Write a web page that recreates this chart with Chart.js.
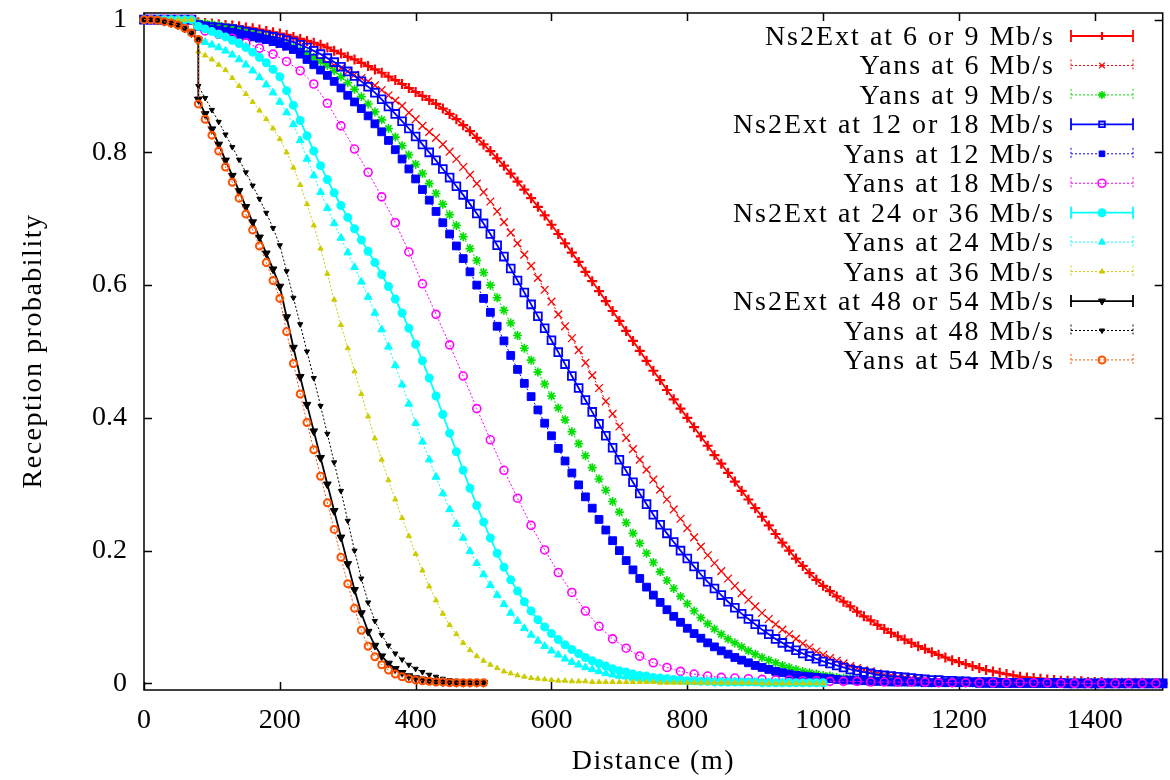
<!DOCTYPE html>
<html>
<head>
<meta charset="utf-8">
<title>Reception probability</title>
<script src="https://cdn.jsdelivr.net/npm/chart.js@4.4.1/dist/chart.umd.min.js"></script>
<style>
  html, body { margin: 0; padding: 0; background: #fff; }
  #caixa { width: 1170px; height: 780px; }
</style>
</head>
<body>
<div id="caixa"><canvas id="grafico" width="1170" height="780"></canvas></div>
<script>
// Distâncias (m)
const distancias = [
  0, 10, 20, 30, 40, 50, 60, 70, 80, 90,
  100, 110, 120, 130, 140, 150, 160, 170, 180, 190,
  200, 210, 220, 230, 240, 250, 260, 270, 280, 290,
  300, 310, 320, 330, 340, 350, 360, 370, 380, 390,
  400, 410, 420, 430, 440, 450, 460, 470, 480, 490,
  500, 510, 520, 530, 540, 550, 560, 570, 580, 590,
  600, 610, 620, 630, 640, 650, 660, 670, 680, 690,
  700, 710, 720, 730, 740, 750, 760, 770, 780, 790,
  800, 810, 820, 830, 840, 850, 860, 870, 880, 890,
  900, 910, 920, 930, 940, 950, 960, 970, 980, 990,
  1000, 1010, 1020, 1030, 1040, 1050, 1060, 1070, 1080, 1090,
  1100, 1110, 1120, 1130, 1140, 1150, 1160, 1170, 1180, 1190,
  1200, 1210, 1220, 1230, 1240, 1250, 1260, 1270, 1280, 1290,
  1300, 1310, 1320, 1330, 1340, 1350, 1360, 1370, 1380, 1390,
  1400, 1410, 1420, 1430, 1440, 1450, 1460, 1470, 1480, 1490,
  1500
];
// séries de 48/54 Mb/s: dois valores em 80 m (salto)
const distanciasCurtas = [
  0, 10, 20, 30, 40, 50, 60, 70, 80,
  80, 90, 100, 110, 120, 130, 140, 150, 160, 170, 180, 190,
  200, 210, 220, 230, 240, 250, 260, 270, 280, 290,
  300, 310, 320, 330, 340, 350, 360, 370, 380, 390,
  400, 410, 420, 430, 440, 450, 460, 470, 480, 490,
  500
];
// Yans 18 Mb/s amostrado a cada 20 m
const distanciasYans18 = [
  10, 30, 50, 70, 90, 110, 130, 150, 170, 190,
  210, 230, 250, 270, 290, 310, 330, 350, 370, 390,
  410, 430, 450, 470, 490, 510, 530, 550, 570, 590,
  610, 630, 650, 670, 690, 710, 730, 750, 770, 790,
  810, 830, 850, 870, 890, 910, 930, 950, 970, 990,
  1010, 1030, 1050, 1070, 1090, 1110, 1130, 1150, 1170, 1190,
  1210, 1230, 1250, 1270, 1290, 1310, 1330, 1350, 1370, 1390,
  1410, 1430, 1450, 1470, 1490
];

const ticksX = [0, 200, 400, 600, 800, 1000, 1200, 1400];
const ticksY = [0, 0.2, 0.4, 0.6, 0.8, 1];

const ns2ext69 = [
  1, 1, 1, 1, 1, 1, 1, 1, 0.996, 0.995,
  0.994, 0.993, 0.992, 0.991, 0.990, 0.988, 0.987, 0.985, 0.983, 0.981,
  0.979, 0.977, 0.974, 0.971, 0.968, 0.965, 0.962, 0.958, 0.953, 0.949,
  0.944, 0.94, 0.935, 0.93, 0.925, 0.92, 0.914, 0.909, 0.903, 0.897,
  0.891, 0.885, 0.879, 0.873, 0.866, 0.858, 0.85, 0.841, 0.832, 0.822,
  0.812, 0.802, 0.791, 0.78, 0.768, 0.756, 0.744, 0.731, 0.718, 0.705,
  0.691, 0.677, 0.663, 0.649, 0.635, 0.62, 0.606, 0.591, 0.576, 0.561,
  0.546, 0.531, 0.516, 0.501, 0.486, 0.471, 0.457, 0.442, 0.428, 0.414,
  0.4, 0.386, 0.372, 0.358, 0.344, 0.331, 0.317, 0.304, 0.29, 0.277,
  0.264, 0.251, 0.238, 0.225, 0.212, 0.2, 0.188, 0.177, 0.166, 0.156,
  0.147, 0.139, 0.131, 0.123, 0.116, 0.108, 0.101, 0.095, 0.088, 0.082,
  0.076, 0.071, 0.066, 0.061, 0.056, 0.052, 0.047, 0.043, 0.039, 0.035,
  0.032, 0.029, 0.026, 0.023, 0.02, 0.018, 0.016, 0.014, 0.012, 0.01,
  0.009, 0.008, 0.007, 0.006, 0.005, 0.004, 0.004, 0.003, 0.003, 0.002,
  0.002, 0.002, 0.001, 0.001, 0.001, 0.001, 0.001, 0.001, 0, 0,
  0
];
const yans6 = [
  1, 1, 1, 1, 1, 1, 1, 1, 0.992, 0.99,
  0.988, 0.986, 0.984, 0.982, 0.98, 0.977, 0.975, 0.972, 0.969, 0.966,
  0.963, 0.959, 0.955, 0.951, 0.947, 0.943, 0.939, 0.935, 0.931, 0.927,
  0.922, 0.917, 0.912, 0.907, 0.901, 0.894, 0.886, 0.878, 0.87, 0.86,
  0.85, 0.84, 0.831, 0.822, 0.812, 0.801, 0.79, 0.778, 0.766, 0.753,
  0.74, 0.726, 0.711, 0.695, 0.679, 0.663, 0.646, 0.629, 0.611, 0.593,
  0.575, 0.556, 0.538, 0.52, 0.502, 0.483, 0.464, 0.445, 0.425, 0.406,
  0.387, 0.37, 0.353, 0.337, 0.322, 0.307, 0.292, 0.277, 0.262, 0.248,
  0.234, 0.22, 0.206, 0.193, 0.181, 0.169, 0.158, 0.147, 0.136, 0.126,
  0.116, 0.106, 0.097, 0.089, 0.081, 0.074, 0.067, 0.06, 0.054, 0.048,
  0.043, 0.038, 0.034, 0.03, 0.026, 0.023, 0.02, 0.018, 0.015, 0.013,
  0.012, 0.01, 0.009, 0.008, 0.007, 0.006, 0.005, 0.004, 0.004, 0.003,
  0.003, 0.002, 0.002, 0.002, 0.002, 0.001, 0.001, 0.001, 0.001, 0.001,
  0.001, 0.001, 0, 0, 0, 0, 0, 0, 0, 0,
  0, 0, 0, 0, 0, 0, 0, 0, 0, 0,
  0
];
const yans9 = [
  1, 1, 1, 1, 1, 1, 1, 1, 0.995, 0.994,
  0.993, 0.991, 0.989, 0.987, 0.985, 0.982, 0.979, 0.976, 0.973, 0.97,
  0.967, 0.963, 0.959, 0.954, 0.949, 0.943, 0.937, 0.931, 0.923, 0.914,
  0.905, 0.895, 0.884, 0.873, 0.861, 0.849, 0.836, 0.823, 0.81, 0.796,
  0.782, 0.768, 0.753, 0.738, 0.722, 0.706, 0.69, 0.673, 0.655, 0.637,
  0.619, 0.6, 0.581, 0.562, 0.543, 0.524, 0.505, 0.487, 0.469, 0.451,
  0.433, 0.415, 0.397, 0.379, 0.361, 0.343, 0.325, 0.308, 0.291, 0.274,
  0.258, 0.242, 0.226, 0.211, 0.196, 0.182, 0.168, 0.155, 0.143, 0.131,
  0.12, 0.109, 0.099, 0.09, 0.082, 0.074, 0.067, 0.061, 0.055, 0.049,
  0.044, 0.039, 0.035, 0.031, 0.027, 0.024, 0.021, 0.018, 0.016, 0.014,
  0.012, 0.011, 0.009, 0.008, 0.007, 0.006, 0.005, 0.005, 0.004, 0.004,
  0.003, 0.003, 0.002, 0.002, 0.002, 0.002, 0.001, 0.001, 0.001, 0.001,
  0.001, 0.001, 0.001, 0.001, 0.001, 0.001, 0, 0, 0, 0,
  0, 0, 0, 0, 0, 0, 0, 0, 0, 0,
  0, 0, 0, 0, 0, 0, 0, 0, 0, 0,
  0
];
const ns2ext1218 = [
  1, 1, 1, 1, 1, 1, 1, 1, 0.992, 0.99,
  0.989, 0.988, 0.987, 0.986, 0.984, 0.982, 0.98, 0.978, 0.976, 0.974,
  0.972, 0.969, 0.966, 0.962, 0.958, 0.953, 0.948, 0.942, 0.936, 0.929,
  0.922, 0.915, 0.907, 0.899, 0.89, 0.88, 0.869, 0.858, 0.847, 0.836,
  0.824, 0.812, 0.8, 0.788, 0.775, 0.762, 0.749, 0.736, 0.722, 0.708,
  0.693, 0.677, 0.66, 0.643, 0.625, 0.607, 0.589, 0.571, 0.553, 0.535,
  0.517, 0.499, 0.481, 0.463, 0.445, 0.427, 0.409, 0.391, 0.373, 0.355,
  0.337, 0.32, 0.303, 0.286, 0.27, 0.254, 0.239, 0.226, 0.213, 0.2,
  0.188, 0.176, 0.164, 0.153, 0.143, 0.133, 0.123, 0.114, 0.105, 0.097,
  0.089, 0.081, 0.074, 0.067, 0.061, 0.055, 0.05, 0.045, 0.041, 0.037,
  0.033, 0.03, 0.027, 0.024, 0.021, 0.019, 0.017, 0.015, 0.013, 0.012,
  0.011, 0.01, 0.009, 0.008, 0.007, 0.006, 0.005, 0.005, 0.004, 0.004,
  0.003, 0.003, 0.002, 0.002, 0.002, 0.002, 0.001, 0.001, 0.001, 0.001,
  0.001, 0.001, 0.001, 0.001, 0.001, 0.001, 0, 0, 0, 0,
  0, 0, 0, 0, 0, 0, 0, 0, 0, 0,
  0
];
const yans12 = [
  1, 1, 1, 1, 1, 1, 1, 1, 0.99, 0.988,
  0.986, 0.984, 0.982, 0.98, 0.978, 0.976, 0.974, 0.972, 0.97, 0.967,
  0.964, 0.96, 0.955, 0.948, 0.94, 0.932, 0.924, 0.916, 0.907, 0.897,
  0.886, 0.876, 0.866, 0.855, 0.843, 0.831, 0.818, 0.804, 0.79, 0.775,
  0.76, 0.744, 0.728, 0.711, 0.694, 0.677, 0.659, 0.64, 0.62, 0.6,
  0.58, 0.559, 0.538, 0.516, 0.494, 0.473, 0.452, 0.432, 0.412, 0.392,
  0.373, 0.354, 0.335, 0.317, 0.299, 0.281, 0.264, 0.247, 0.231, 0.215,
  0.2, 0.185, 0.171, 0.158, 0.145, 0.133, 0.122, 0.111, 0.101, 0.092,
  0.083, 0.075, 0.068, 0.061, 0.055, 0.049, 0.044, 0.039, 0.035, 0.031,
  0.027, 0.024, 0.021, 0.018, 0.016, 0.014, 0.012, 0.011, 0.01, 0.009,
  0.008, 0.007, 0.006, 0.005, 0.005, 0.004, 0.004, 0.003, 0.003, 0.003,
  0.002, 0.002, 0.002, 0.002, 0.002, 0.001, 0.001, 0.001, 0.001, 0.001,
  0.001, 0.001, 0.001, 0, 0, 0, 0, 0, 0, 0,
  0, 0, 0, 0, 0, 0, 0, 0, 0, 0,
  0, 0, 0, 0, 0, 0, 0, 0, 0, 0,
  0
];
const yans18 = [
  1, 1, 1, 1, 0.983, 0.978, 0.972, 0.965, 0.957, 0.948,
  0.937, 0.923, 0.903, 0.874, 0.84, 0.805, 0.77, 0.733, 0.694, 0.65,
  0.602, 0.556, 0.51, 0.463, 0.414, 0.367, 0.321, 0.279, 0.238, 0.201,
  0.167, 0.137, 0.109, 0.086, 0.067, 0.053, 0.041, 0.031, 0.024, 0.018,
  0.014, 0.011, 0.009, 0.008, 0.007, 0.006, 0.005, 0.005, 0.004, 0.004,
  0.003, 0.003, 0.003, 0.002, 0.002, 0.002, 0.002, 0.002, 0.001, 0.001,
  0.001, 0.001, 0.001, 0.001, 0.001, 0.001, 0.001, 0, 0, 0,
  0, 0, 0, 0, 0
];
const ns2ext2436 = [
  1, 1, 1, 1, 1, 1, 1, 1, 0.99, 0.986,
  0.982, 0.978, 0.974, 0.969, 0.964, 0.958, 0.951, 0.943, 0.935, 0.925,
  0.914, 0.893, 0.871, 0.848, 0.825, 0.802, 0.78, 0.759, 0.739, 0.72,
  0.702, 0.685, 0.668, 0.651, 0.634, 0.616, 0.598, 0.579, 0.558, 0.535,
  0.511, 0.486, 0.46, 0.433, 0.405, 0.377, 0.349, 0.321, 0.294, 0.268,
  0.243, 0.219, 0.196, 0.175, 0.156, 0.139, 0.123, 0.109, 0.096, 0.085,
  0.075, 0.066, 0.058, 0.051, 0.045, 0.039, 0.034, 0.03, 0.026, 0.022,
  0.019, 0.017, 0.014, 0.012, 0.011, 0.009, 0.008, 0.007, 0.006, 0.005,
  0.004, 0.004, 0.003, 0.003, 0.002, 0.002, 0.002, 0.002, 0.002, 0.002,
  0.002, 0.001, 0.001, 0.001, 0.001, 0.001, 0.001, 0.001, 0.001, 0.001,
  0.001
];
const yans24 = [
  1, 1, 1, 1, 1, 1, 1, 1, 0.97, 0.966,
  0.962, 0.958, 0.953, 0.947, 0.94, 0.932, 0.923, 0.913, 0.902, 0.89,
  0.876, 0.86, 0.842, 0.818, 0.79, 0.765, 0.74, 0.716, 0.693, 0.671,
  0.649, 0.627, 0.605, 0.582, 0.558, 0.533, 0.507, 0.479, 0.45, 0.421,
  0.392, 0.364, 0.337, 0.311, 0.286, 0.262, 0.24, 0.219, 0.199, 0.181,
  0.164, 0.148, 0.133, 0.119, 0.106, 0.094, 0.083, 0.073, 0.064, 0.056,
  0.049, 0.043, 0.037, 0.032, 0.028, 0.024, 0.021, 0.018, 0.015, 0.013,
  0.011, 0.01, 0.008, 0.007, 0.006, 0.005, 0.004, 0.004, 0.003, 0.003,
  0.002, 0.002, 0.002, 0.002, 0.002, 0.002, 0.001, 0.001, 0.001, 0.001,
  0.001, 0.001, 0.001, 0.001, 0.001, 0.001, 0, 0, 0, 0,
  0
];
const yans36 = [
  1, 1, 1, 1, 1, 1, 1, 1, 0.952, 0.946,
  0.94, 0.932, 0.924, 0.912, 0.9, 0.888, 0.876, 0.863, 0.85, 0.836,
  0.82, 0.8, 0.777, 0.751, 0.722, 0.69, 0.655, 0.617, 0.578, 0.54,
  0.505, 0.47, 0.436, 0.402, 0.369, 0.337, 0.306, 0.277, 0.249, 0.222,
  0.195, 0.17, 0.146, 0.125, 0.105, 0.088, 0.074, 0.061, 0.05, 0.041,
  0.034, 0.028, 0.023, 0.018, 0.015, 0.012, 0.01, 0.008, 0.007, 0.006,
  0.005, 0.004, 0.004, 0.003, 0.003, 0.003, 0.002, 0.002, 0.002, 0.002,
  0.002, 0.002, 0.002, 0.002, 0.002, 0.002, 0.001, 0.001, 0.001, 0.001,
  0.001, 0.001, 0.001, 0.001, 0.001, 0.001, 0.001, 0.001, 0.001, 0.001,
  0.001, 0, 0, 0, 0, 0, 0, 0, 0, 0,
  0
];
const ns2ext4854 = [
  1, 1, 0.999, 0.997, 0.995, 0.992, 0.987, 0.98, 0.97,
  0.88, 0.858, 0.835, 0.812, 0.788, 0.765, 0.742, 0.718, 0.695, 0.672, 0.648, 0.624,
  0.598, 0.552, 0.506, 0.462, 0.42, 0.38, 0.34, 0.3, 0.26, 0.22,
  0.18, 0.141, 0.106, 0.078, 0.057, 0.041, 0.03, 0.022, 0.016, 0.011,
  0.008, 0.006, 0.004, 0.003, 0.002, 0.002, 0.001, 0.001, 0.001, 0.001,
  0.001
];
const yans48 = [
  1, 1, 0.999, 0.997, 0.995, 0.992, 0.987, 0.98, 0.97,
  0.9, 0.882, 0.864, 0.846, 0.827, 0.808, 0.789, 0.77, 0.75, 0.73, 0.709, 0.686,
  0.66, 0.621, 0.581, 0.541, 0.5, 0.46, 0.418, 0.376, 0.333, 0.29,
  0.245, 0.2, 0.158, 0.122, 0.094, 0.073, 0.057, 0.045, 0.036, 0.028,
  0.022, 0.017, 0.013, 0.01, 0.007, 0.005, 0.004, 0.003, 0.002, 0.0015,
  0.001
];
const yans54 = [
  1, 1, 0.999, 0.997, 0.995, 0.992, 0.987, 0.98, 0.97,
  0.873, 0.85, 0.826, 0.802, 0.778, 0.755, 0.731, 0.707, 0.683, 0.659, 0.634, 0.607,
  0.58, 0.53, 0.482, 0.436, 0.393, 0.352, 0.312, 0.272, 0.232, 0.19,
  0.15, 0.113, 0.08, 0.056, 0.04, 0.028, 0.02, 0.014, 0.01, 0.007,
  0.005, 0.004, 0.003, 0.002, 0.002, 0.001, 0.001, 0.001, 0.001, 0.001,
  0.001
];

const FONTE = '28px "Liberation Serif", "Times New Roman", serif';
const fonteEixo = { family: '"Liberation Serif", "Times New Roman", serif', size: 28 };

// junta distâncias e valores em pontos {x, y}
function pontos(dist, valores) {
  return valores.map((v, i) => ({ x: dist[i], y: v }));
}

function serie(label, dist, valores, cor, solida, marcador) {
  return Object.assign({
    label: label,
    data: pontos(dist, valores),
    borderColor: cor,
    borderWidth: solida ? 1.8 : 1,
    borderDash: solida ? [] : [2, 2],
    pointBorderColor: cor,
    pointBackgroundColor: cor,
    pointBorderWidth: 1,
    pointRotation: 0,
    fill: false,
    tension: 0,
    clip: false
  }, marcador);
}

const vazio = 'rgba(0,0,0,0)';

const datasets = [
  serie('Ns2Ext at 6 or 9 Mb/s', distancias, ns2ext69, '#ff0000', true,
    { pointStyle: 'cross', pointRadius: 5, pointBorderWidth: 2.2 }),
  serie('Yans at 6 Mb/s', distancias, yans6, '#ff0000', false,
    { pointStyle: 'crossRot', pointRadius: 5.5, pointBorderWidth: 1.3 }),
  serie('Yans at 9 Mb/s', distancias, yans9, '#00e000', false,
    { pointStyle: 'star', pointRadius: 4.5, pointBorderWidth: 1.6 }),
  serie('Ns2Ext at 12 or 18 Mb/s', distancias, ns2ext1218, '#0000ff', true,
    { pointStyle: 'rect', pointRadius: 5.5, pointBorderWidth: 1.8, pointBackgroundColor: vazio }),
  serie('Yans at 12 Mb/s', distancias, yans12, '#0000ff', false,
    { pointStyle: 'rect', pointRadius: 5.5 }),
  serie('Yans at 18 Mb/s', distanciasYans18, yans18, '#ff00ff', false,
    { pointStyle: 'circle', pointRadius: 4, pointBorderWidth: 1.6, pointBackgroundColor: vazio }),
  serie('Ns2Ext at 24 or 36 Mb/s', distancias, ns2ext2436, '#00ffff', true,
    { pointStyle: 'circle', pointRadius: 3.5, pointBorderWidth: 2 }),
  serie('Yans at 24 Mb/s', distancias, yans24, '#00ffff', false,
    { pointStyle: 'triangle', pointRadius: 4.5 }),
  serie('Yans at 36 Mb/s', distancias, yans36, '#cccc00', false,
    { pointStyle: 'triangle', pointRadius: 3 }),
  serie('Ns2Ext at 48 or 54 Mb/s', distanciasCurtas, ns2ext4854, '#000000', true,
    { pointStyle: 'triangle', pointRadius: 4.5, pointRotation: 180 }),
  serie('Yans at 48 Mb/s', distanciasCurtas, yans48, '#000000', false,
    { pointStyle: 'triangle', pointRadius: 3, pointRotation: 180 }),
  serie('Yans at 54 Mb/s', distanciasCurtas, yans54, '#ff5000', false,
    { pointStyle: 'circle', pointRadius: 3.5, pointBorderWidth: 2, pointBackgroundColor: vazio })
];
// primeira série por baixo, última por cima (como no gnuplot)
datasets.forEach((d, i) => { d.order = datasets.length - i; });

// moldura, marcas dos eixos, títulos e legenda
const molduraPlugin = {
  id: 'moldura',
  beforeDatasetsDraw(chart) {
    const { ctx, chartArea: a, scales } = chart;
    ctx.save();
    ctx.strokeStyle = '#000';
    ctx.lineWidth = 1.5;
    ctx.strokeRect(a.left, a.top, a.right - a.left, a.bottom - a.top);
    ctx.beginPath();
    ticksX.forEach(v => {
      const px = Math.round(scales.x.getPixelForValue(v)) + 0.5;
      ctx.moveTo(px, a.bottom); ctx.lineTo(px, a.bottom - 8);
      ctx.moveTo(px, a.top); ctx.lineTo(px, a.top + 8);
    });
    ticksY.forEach(v => {
      const py = Math.round(scales.y.getPixelForValue(v)) + 0.5;
      ctx.moveTo(a.left, py); ctx.lineTo(a.left + 8, py);
      ctx.moveTo(a.right, py); ctx.lineTo(a.right - 8, py);
    });
    ctx.stroke();

    ctx.fillStyle = '#000';
    ctx.font = FONTE;
    ctx.letterSpacing = '1.5px';
    ctx.textAlign = 'center';
    ctx.textBaseline = 'middle';
    ctx.fillText('Distance (m)', (a.left + a.right) / 2, 762);
    ctx.translate(34, 351);
    ctx.rotate(-Math.PI / 2);
    ctx.fillText('Reception probability', 0, 0);
    ctx.restore();
  },
  afterDatasetsDraw(chart) {
    const ctx = chart.ctx;
    ctx.save();
    ctx.font = FONTE;
    ctx.letterSpacing = '2px';
    ctx.textAlign = 'right';
    ctx.textBaseline = 'alphabetic';
    chart.data.datasets.forEach((d, i) => {
      const y = 36 + i * 29.45;
      ctx.fillStyle = '#000';
      ctx.fillText(d.label, 1055, y + 9);

      ctx.strokeStyle = d.borderColor;
      ctx.lineWidth = d.borderWidth;
      ctx.setLineDash(d.borderDash);
      ctx.beginPath();
      ctx.moveTo(1071, y); ctx.lineTo(1133, y);
      ctx.moveTo(1071, y - 6); ctx.lineTo(1071, y + 6);
      ctx.moveTo(1133, y - 6); ctx.lineTo(1133, y + 6);
      ctx.stroke();

      ctx.setLineDash([]);
      ctx.fillStyle = d.pointBackgroundColor;
      ctx.strokeStyle = d.pointBorderColor;
      ctx.lineWidth = d.pointBorderWidth;
      Chart.helpers.drawPoint(ctx, {
        pointStyle: d.pointStyle,
        radius: Math.min(d.pointRadius, 4),
        rotation: d.pointRotation,
        borderWidth: d.pointBorderWidth
      }, 1102, y);
    });
    ctx.restore();
  }
};

new Chart(document.getElementById('grafico'), {
  type: 'line',
  data: { datasets: datasets },
  options: {
    responsive: false,
    animation: false,
    devicePixelRatio: 1,
    layout: { padding: { top: 13, right: 2, left: 0, bottom: 0 } },
    plugins: {
      legend: { display: false },
      tooltip: { enabled: false }
    },
    scales: {
      x: {
        type: 'linear',
        min: 0,
        max: 1500,
        afterBuildTicks: s => { s.ticks = ticksX.map(v => ({ value: v })); },
        afterFit: s => { s.height = 90; s.paddingLeft = 0; s.paddingRight = 0; },
        grid: { display: false, drawTicks: false },
        border: { display: false },
        ticks: {
          font: fonteEixo,
          color: '#000',
          padding: 14,
          maxRotation: 0,
          autoSkip: false,
          callback: v => String(v)
        }
      },
      y: {
        type: 'linear',
        min: -0.01,
        max: 1.01,
        afterBuildTicks: s => { s.ticks = ticksY.map(v => ({ value: v })); },
        afterFit: s => { s.width = 144; s.paddingTop = 0; s.paddingBottom = 0; },
        grid: { display: false, drawTicks: false },
        border: { display: false },
        ticks: {
          font: fonteEixo,
          color: '#000',
          padding: 17,
          autoSkip: false,
          callback: v => String(v)
        }
      }
    }
  },
  plugins: [molduraPlugin]
});
</script>
</body>
</html>
